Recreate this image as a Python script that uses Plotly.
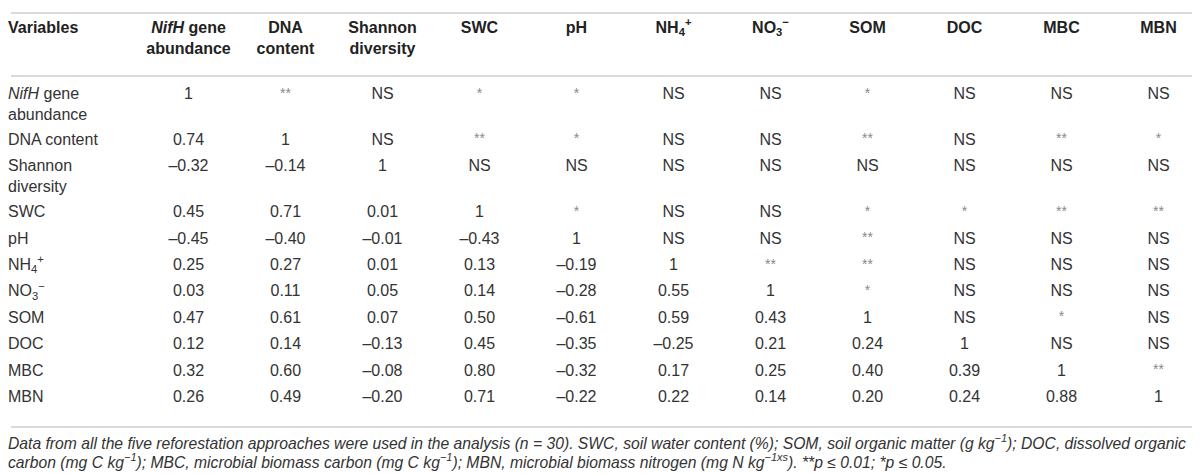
import plotly.graph_objects as go

# row / column labels
variables = [
    "<i>NifH</i> gene<br>abundance", "DNA content", "Shannon<br>diversity", "SWC", "pH",
    "NH<sub>4</sub><sup>+</sup>", "NO<sub>3</sub><sup>−</sup>", "SOM", "DOC", "MBC", "MBN",
]
headers = [
    "<i>NifH</i> gene<br>abundance", "DNA<br>content", "Shannon<br>diversity", "SWC", "pH",
    "NH<sub>4</sub><sup>+</sup>", "NO<sub>3</sub><sup>−</sup>", "SOM", "DOC", "MBC", "MBN",
]
corner = "Variables"

# lower triangle: correlation coefficients (row vs earlier columns)
corr_dna = [0.74]
corr_shannon = [-0.32, -0.14]
corr_swc = [0.45, 0.71, 0.01]
corr_ph = [-0.45, -0.40, -0.01, -0.43]
corr_nh4 = [0.25, 0.27, 0.01, 0.13, -0.19]
corr_no3 = [0.03, 0.11, 0.05, 0.14, -0.28, 0.55]
corr_som = [0.47, 0.61, 0.07, 0.50, -0.61, 0.59, 0.43]
corr_doc = [0.12, 0.14, -0.13, 0.45, -0.35, -0.25, 0.21, 0.24]
corr_mbc = [0.32, 0.60, -0.08, 0.80, -0.32, 0.17, 0.25, 0.40, 0.39]
corr_mbn = [0.26, 0.49, -0.20, 0.71, -0.22, 0.22, 0.14, 0.20, 0.24, 0.88]

# upper triangle: significance (row vs later columns)
sig_nifh = ["**", "NS", "*", "*", "NS", "NS", "*", "NS", "NS", "NS"]
sig_dna = ["NS", "**", "*", "NS", "NS", "**", "NS", "**", "*"]
sig_shannon = ["NS", "NS", "NS", "NS", "NS", "NS", "NS", "NS"]
sig_swc = ["*", "NS", "NS", "*", "*", "**", "**"]
sig_ph = ["NS", "NS", "**", "NS", "NS", "NS"]
sig_nh4 = ["**", "**", "NS", "NS", "NS"]
sig_no3 = ["*", "NS", "NS", "NS"]
sig_som = ["NS", "*", "NS"]
sig_doc = ["NS", "NS"]
sig_mbc = ["**"]
sig_mbn = []

footnote_lines = [
    "<i>Data from all the five reforestation approaches were used in the analysis (n = 30). "
    "SWC, soil water content (%); SOM, soil organic matter (g kg<sup>−1</sup>); DOC, dissolved organic</i>",
    "<i>carbon (mg C kg<sup>−1</sup>); MBC, microbial biomass carbon (mg C kg<sup>−1</sup>); "
    "MBN, microbial biomass nitrogen (mg N kg<sup>−1xs</sup>). **p ≤ 0.01; *p ≤ 0.05.</i>",
]

corr_rows = [[], corr_dna, corr_shannon, corr_swc, corr_ph, corr_nh4, corr_no3,
             corr_som, corr_doc, corr_mbc, corr_mbn]
sig_rows = [sig_nifh, sig_dna, sig_shannon, sig_swc, sig_ph, sig_nh4, sig_no3,
            sig_som, sig_doc, sig_mbc, sig_mbn]

FONT = "Liberation Sans, Arial, sans-serif"
TEXT = "#333333"
STAR = "#8a8a8a"
W, H = 1200, 474
X_OFF = 3  # axis starts a few px left of the label anchor

# layout in pixel units (y grows downward)
ROW_H = 26.4
LINE_H = 19.5
HEADER_Y = 13
FIRST_ROW_Y = 79
TOP_RULE, HEAD_RULE, BOTTOM_RULE = 5, 68, 419
RULE_X = (3, 1193)
COL_X0, COL_DX = 180.5, 97.0
LABEL_X = X_OFF
FOOT_Y = (434, 453)


def fmt(v):
    return f"{v:.2f}".replace("-", "–")


row_y = []
y = FIRST_ROW_Y
for label in variables:
    row_y.append(y)
    y += ROW_H + LINE_H * label.count("<br>")

col_x = [COL_X0 + X_OFF + COL_DX * j for j in range(len(headers))]

cell_x, cell_y, cell_t, cell_c, cell_s = [], [], [], [], []
for i, (corr, sig) in enumerate(zip(corr_rows, sig_rows)):
    texts = [fmt(v) for v in corr] + ["1"] + sig
    for j, t in enumerate(texts):
        cell_x.append(col_x[j])
        cell_y.append(row_y[i])
        cell_t.append(t)
        star = "*" in t
        cell_c.append(STAR if star else TEXT)
        cell_s.append(14 if star else 16)

fig = go.Figure()

fig.add_trace(go.Scatter(
    x=col_x, y=[HEADER_Y] * len(headers), text=[f"<b>{h}</b>" for h in headers],
    mode="text", textposition="bottom center", hoverinfo="skip",
    textfont=dict(family=FONT, size=16, color="#222222"),
))
fig.add_trace(go.Scatter(
    x=[LABEL_X], y=[HEADER_Y], text=[f"<b>{corner}</b>"],
    mode="text", textposition="bottom right", hoverinfo="skip", cliponaxis=False,
    textfont=dict(family=FONT, size=16, color="#222222"),
))
fig.add_trace(go.Scatter(
    x=[LABEL_X] * len(variables), y=row_y, text=variables,
    mode="text", textposition="bottom right", hoverinfo="skip", cliponaxis=False,
    textfont=dict(family=FONT, size=16, color=TEXT),
))
fig.add_trace(go.Scatter(
    x=cell_x, y=cell_y, text=cell_t,
    mode="text", textposition="bottom center", hoverinfo="skip",
    textfont=dict(family=FONT, size=cell_s, color=cell_c),
))

for yr in (TOP_RULE, HEAD_RULE, BOTTOM_RULE):
    fig.add_shape(type="line", xref="x", yref="y",
                  x0=RULE_X[0] + X_OFF, x1=RULE_X[1] + X_OFF, y0=yr, y1=yr,
                  line=dict(color="#b3b3b3", width=1.2))

for line, fy in zip(footnote_lines, FOOT_Y):
    fig.add_annotation(
        text=line, xref="x", yref="y", x=X_OFF, y=fy, xshift=-2,
        xanchor="left", yanchor="middle", align="left", showarrow=False,
        font=dict(family=FONT, size=15.7, color=TEXT),
    )

fig.update_xaxes(range=[X_OFF, W + X_OFF], visible=False, fixedrange=True)
fig.update_yaxes(range=[H, 0], visible=False, fixedrange=True)
fig.update_layout(
    width=W, height=H,
    margin=dict(l=0, r=0, t=0, b=0),
    paper_bgcolor="white", plot_bgcolor="white",
    showlegend=False,
)

fig.write_html("out.html")
